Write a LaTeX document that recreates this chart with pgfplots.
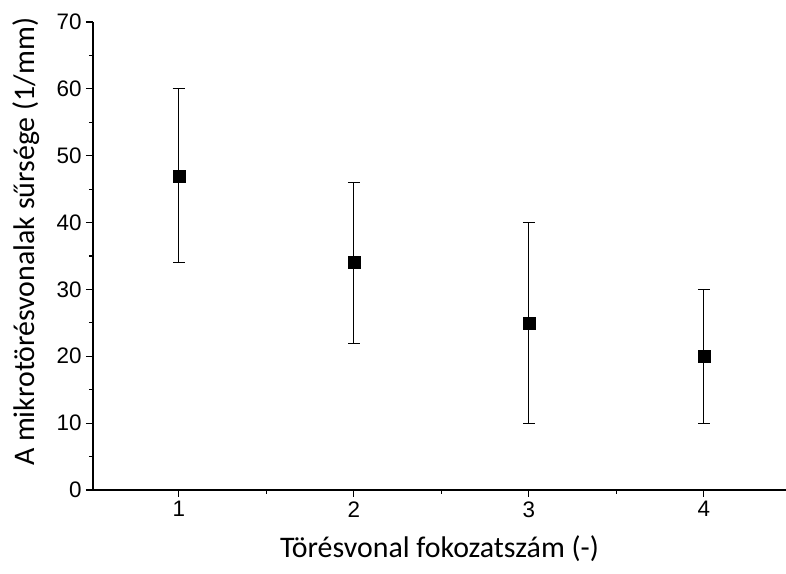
\documentclass[border=0pt]{standalone}
\usepackage{fontspec}
\setmainfont{Liberation Sans}
\newfontfamily\labelfont{Carlito}
\newfontfamily\tickfont{Liberation Sans}
\usepackage{pgfplots}
\pgfplotsset{compat=1.18}
\begin{document}
\begin{tikzpicture}
\begin{axis}[
  scale only axis,
  width=693bp, height=468bp,
  xmin=0.51, xmax=4.47,
  ymin=0, ymax=70,
  axis lines*=left,
  axis line style={line width=1.3pt},
  xtick={1,2,3,4},
  ytick={0,10,...,70},
  minor xtick={1.5,2.5,3.5},
  minor ytick={5,15,...,65},
  tick align=outside,
  major tick length=7bp,
  minor tick length=4bp,
  every tick/.style={black, line width=1.1pt},
  xticklabels={1,2,3,4},
  yticklabels={0,10,20,30,40,50,60,70},
  xticklabel style={font=\tickfont\fontsize{22.5}{26}\selectfont, yshift=-1bp},
  yticklabel style={font=\tickfont\fontsize{22.5}{26}\selectfont, xshift=-1bp},
  xlabel={Törésvonal fokozatszám (-)},
  ylabel={A mikrotörésvonalak sűrsége (1/mm)},
  label style={font=\labelfont\fontsize{30}{36}\selectfont},
  xlabel style={yshift=-11bp},
  ylabel style={at={(ticklabel cs:0.53)}, yshift=10bp},
  clip=false,
]
\addplot[only marks, mark=square*, mark size=6bp, black,
  error bars/.cd, y dir=both, y explicit,
  error mark options={rotate=90, mark size=6bp, line width=0.8pt},
  error bar style={line width=0.8pt}]
  coordinates {
  (1,47) +- (0,13)
  (2,34) +- (0,12)
  (3,25) +- (0,15)
  (4,20) +- (0,10)
  };
\coordinate (bl) at (rel axis cs:0,0);
\coordinate (tr) at (rel axis cs:1,1);
\end{axis}
\pgfresetboundingbox
\path (bl) ++(-93bp,-84bp) rectangle (tr) ++(0bp,22bp);
\end{tikzpicture}
\end{document}
